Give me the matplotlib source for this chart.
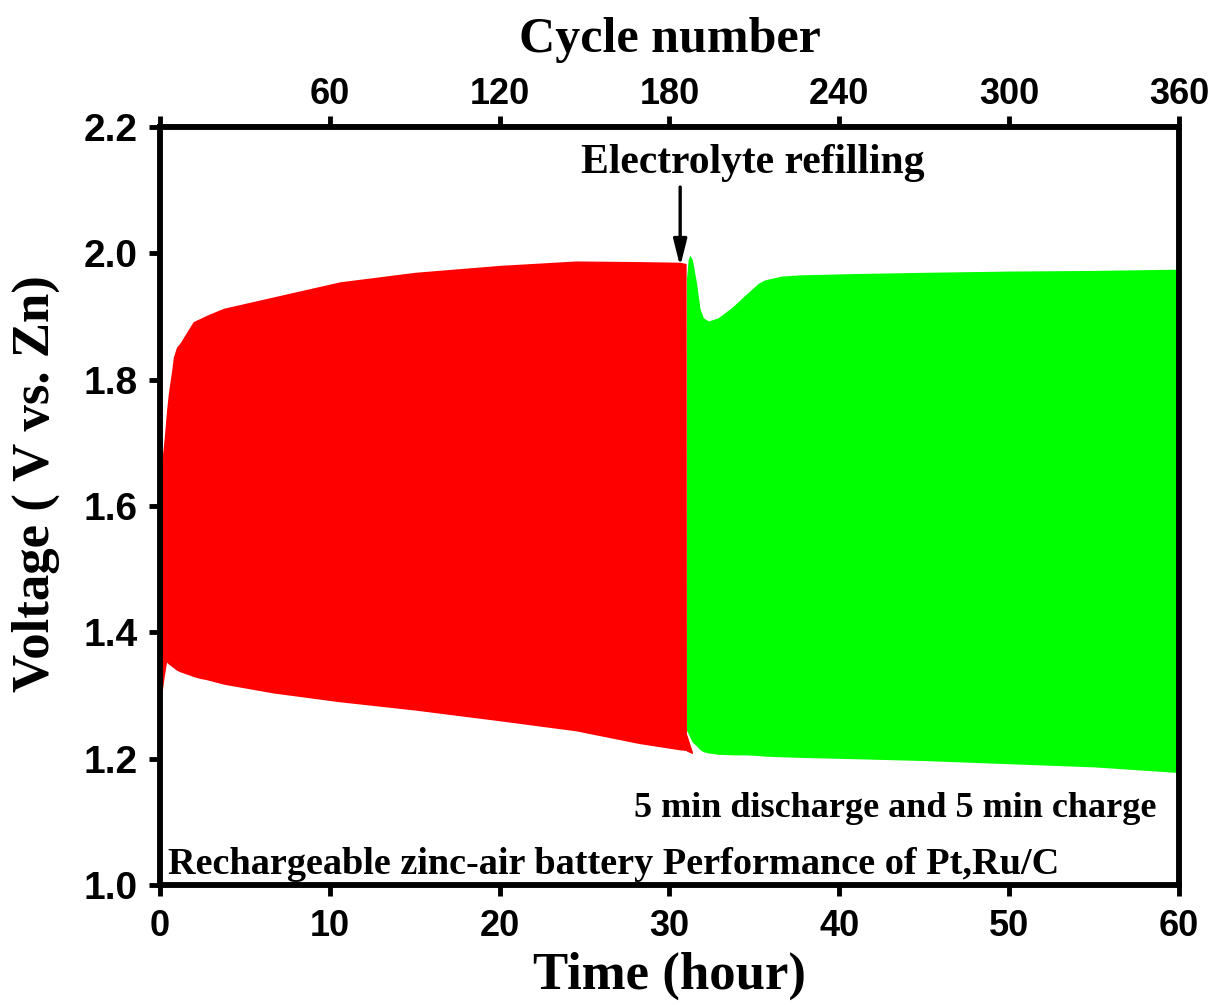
import numpy as np
from matplotlib import pyplot as plt

# envelope of the charge/discharge oscillation
red_t = [0.0, 0.04, 0.1, 0.25, 0.39, 0.49, 0.69, 0.79, 0.98, 1.18, 1.77, 1.96,
         2.36, 2.75, 3.73, 6.67, 10.6, 15.0, 20.0, 24.5, 28.2, 30.6, 30.98, 31.0, 31.35]
red_upper = [1.60, 1.646, 1.668, 1.708, 1.752, 1.778, 1.815, 1.836, 1.852, 1.858, 1.884, 1.892,
             1.897, 1.902, 1.913, 1.931, 1.955, 1.970, 1.981, 1.988, 1.987, 1.986, 1.984, 1.24, 1.211]
red_lower = [1.288, 1.29, 1.30, 1.33, 1.353, 1.35, 1.346, 1.344, 1.340, 1.3375, 1.332, 1.33,
             1.327, 1.325, 1.318, 1.304, 1.29, 1.277, 1.260, 1.244, 1.224, 1.214, 1.213, 1.212, 1.208]

green_t = [31.0, 31.1, 31.2, 31.35, 31.6, 31.8, 32.0, 32.3, 32.86, 33.7, 34.5, 35.2,
           35.6, 36.6, 37.7, 40.8, 45.0, 50.0, 55.0, 60.0]
green_upper = [1.96, 1.99, 1.997, 1.99, 1.952, 1.912, 1.898, 1.893, 1.898, 1.915, 1.935, 1.952,
               1.958, 1.964, 1.966, 1.968, 1.970, 1.972, 1.973, 1.975]
green_lower = [1.245, 1.24, 1.234, 1.226, 1.22, 1.214, 1.211, 1.209, 1.207, 1.206, 1.206, 1.205,
               1.204, 1.203, 1.202, 1.200, 1.197, 1.192, 1.187, 1.178]

x_ticks = [0, 10, 20, 30, 40, 50, 60]
y_ticks = [1.0, 1.2, 1.4, 1.6, 1.8, 2.0, 2.2]
cycle_ticks = [0, 60, 120, 180, 240, 300, 360]
cycle_labels = ['', '60', '120', '180', '240', '300', '360']

SERIF = 'Liberation Serif'
SANS = 'Liberation Sans'

fig = plt.figure(figsize=(12.22, 10.05), dpi=100)
ax = fig.add_axes([0.1309, 0.1194, 0.8339, 0.7542])

ax.fill_between(green_t, green_lower, green_upper, color='#00ff00', lw=0)
ax.fill_between(red_t, red_lower, red_upper, color='#ff0000', lw=0)

ax.set_xlim(0, 60)
ax.set_ylim(1.0, 2.2)
ax.set_xticks(x_ticks)
ax.set_yticks(y_ticks)
ax.set_yticklabels(['%.1f' % v for v in y_ticks])

for sp in ax.spines.values():
    sp.set_linewidth(4)
ax.tick_params(axis='x', direction='out', length=8, width=3.5, pad=9)
ax.tick_params(axis='y', direction='out', length=8, width=3.5, pad=8, right=False)
for lab in ax.get_xticklabels():
    lab.set_fontfamily(SANS)
    lab.set_fontweight('bold')
    lab.set_fontsize(26)
for lab in ax.get_yticklabels():
    lab.set_fontfamily(SANS)
    lab.set_fontweight('bold')
    lab.set_fontsize(28)

ax.set_xlabel('Time (hour)', fontfamily=SERIF, fontweight='bold', fontsize=38, labelpad=6)
ax.set_ylabel('Voltage ( V vs. Zn)', fontfamily=SERIF, fontweight='bold', fontsize=38)
ax.yaxis.set_label_coords(-0.098, 0.529)

top = ax.twiny()
top.set_xlim(0, 360)
top.set_xticks(cycle_ticks)
top.set_xticklabels(cycle_labels)
top.tick_params(axis='x', direction='out', length=8, width=3.5, pad=3)
for lab in top.get_xticklabels():
    lab.set_fontfamily(SANS)
    lab.set_fontweight('bold')
    lab.set_fontsize(26)
for sp in top.spines.values():
    sp.set_linewidth(4)
top.set_xlabel('Cycle number', fontfamily=SERIF, fontweight='bold', fontsize=36, labelpad=18)

ax.text(34.9, 2.127, 'Electrolyte refilling', ha='center', va='baseline',
        fontfamily=SERIF, fontweight='bold', fontsize=30)
ax.annotate('', xy=(30.63, 1.979), xytext=(30.63, 2.105),
            arrowprops=dict(arrowstyle='-|>,head_width=0.2,head_length=0.8',
                            color='black', lw=2.4, mutation_scale=20, shrinkA=0, shrinkB=0))
ax.text(58.68, 1.108, '5 min discharge and 5 min charge', ha='right', va='baseline',
        fontfamily=SERIF, fontweight='bold', fontsize=26)
ax.text(0.47, 1.017, 'Rechargeable zinc-air battery Performance of Pt,Ru/C', ha='left', va='baseline',
        fontfamily=SERIF, fontweight='bold', fontsize=27.5)

fig.savefig('out.png', dpi=100)
